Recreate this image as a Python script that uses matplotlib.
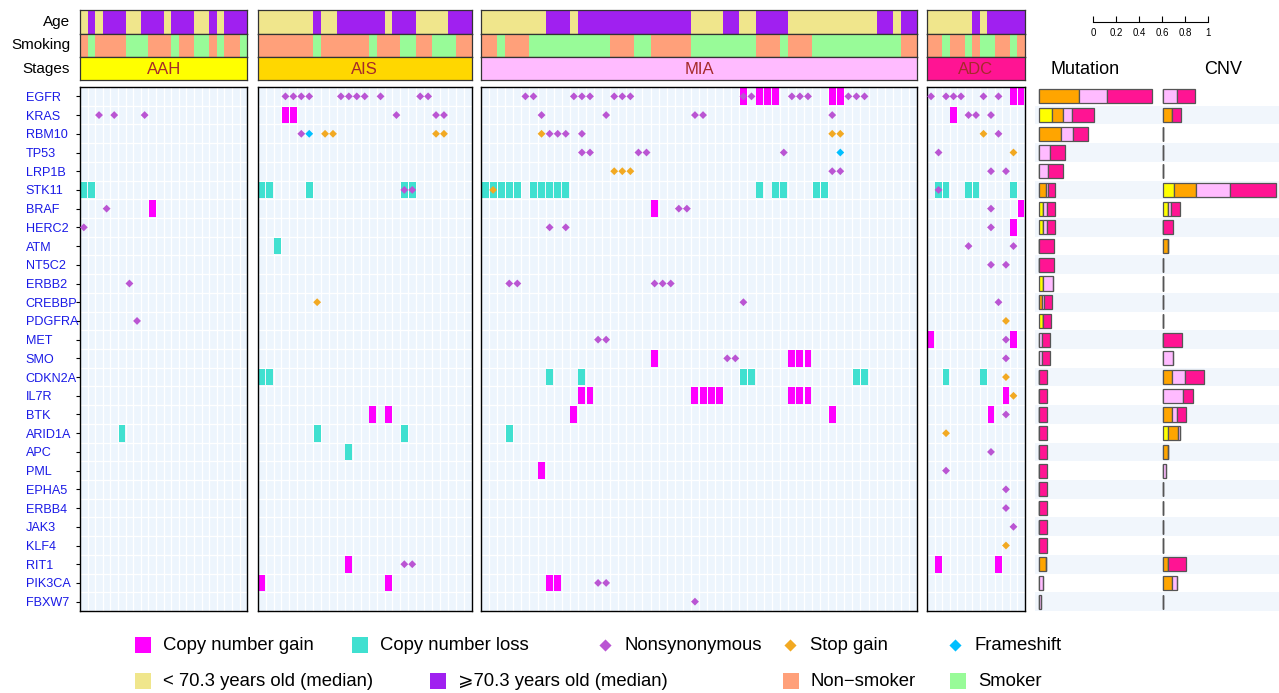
import numpy as np
import matplotlib.pyplot as plt
from matplotlib.patches import Rectangle

plt.rcParams['font.family'] = ['Liberation Sans', 'DejaVu Sans']

#%% Datos
genes = ['EGFR', 'KRAS', 'RBM10', 'TP53', 'LRP1B', 'STK11', 'BRAF', 'HERC2', 'ATM',
         'NT5C2', 'ERBB2', 'CREBBP', 'PDGFRA', 'MET', 'SMO', 'CDKN2A', 'IL7R', 'BTK',
         'ARID1A', 'APC', 'PML', 'EPHA5', 'ERBB4', 'JAK3', 'KLF4', 'RIT1', 'PIK3CA', 'FBXW7']

stages = ['AAH', 'AIS', 'MIA', 'ADC']
ncols = [22, 27, 54, 13]

# 0 = < 70.3 , 1 = >= 70.3
age_AAH = [0,1,0,1,1,1,0,0,1,1,1,0,1,1,1,0,0,1,0,1,1,1]
age_AIS = [0]*7 + [1] + [0,0] + [1]*6 + [0] + [1]*3 + [0]*4 + [1]*3
age_MIA = [0]*8 + [1]*3 + [0] + [1]*14 + [0]*4 + [1]*2 + [0]*2 + [1]*4 + [0]*11 + [1]*2 + [0] + [1]*2
age_ADC = [0]*6 + [1] + [0] + [1]*5

# 0 = non-smoker, 1 = smoker
smoke_AAH = [0,1,0,0,0,0,1,1,1,0,0,0,1,0,0,1,1,0,1,0,0,1]
smoke_AIS = [0]*7 + [1] + [0]*6 + [1] + [0]*3 + [1]*2 + [0]*2 + [1]*3 + [0]*2
smoke_MIA = [0]*2 + [1] + [0]*3 + [1]*10 + [0]*3 + [1]*2 + [0]*5 + [1]*8 + [0]*3 + [1] + [0]*3 + [1]*11 + [0]*2
smoke_ADC = [0,0,1,0,0,1,0,1,1,0,0,1,0]

# (gen, columna, tipo)
ev_AAH = [('KRAS',2,'mis'),('KRAS',4,'mis'),('KRAS',8,'mis'),('STK11',0,'loss'),('STK11',1,'loss'),
          ('BRAF',3,'mis'),('BRAF',9,'gain'),('HERC2',0,'mis'),('ERBB2',6,'mis'),('PDGFRA',7,'mis'),
          ('ARID1A',5,'loss')]
ev_AIS = [('EGFR',c,'mis') for c in [3,4,5,6,10,11,12,13,15,20,21]] + \
         [('KRAS',3,'gain'),('KRAS',4,'gain'),('KRAS',17,'mis'),('KRAS',22,'mis'),('KRAS',23,'mis'),
          ('RBM10',5,'mis'),('RBM10',6,'fs'),('RBM10',8,'stop'),('RBM10',9,'stop'),('RBM10',22,'stop'),('RBM10',23,'stop'),
          ('STK11',0,'loss'),('STK11',1,'loss'),('STK11',6,'loss'),('STK11',18,'loss'),('STK11',19,'loss'),
          ('STK11',18,'mis'),('STK11',19,'mis'),('ATM',2,'loss'),('CREBBP',7,'stop'),
          ('CDKN2A',0,'loss'),('CDKN2A',1,'loss'),('BTK',14,'gain'),('BTK',16,'gain'),
          ('ARID1A',7,'loss'),('ARID1A',18,'loss'),('APC',11,'loss'),
          ('RIT1',11,'gain'),('RIT1',18,'mis'),('RIT1',19,'mis'),('PIK3CA',0,'gain'),('PIK3CA',16,'gain')]
ev_MIA = [('EGFR',c,'mis') for c in [5,6,11,12,13,16,17,18,32,33,38,39,40,45,46,47]] + \
         [('EGFR',c,'gain') for c in [32,34,35,36,43,44]] + \
         [('KRAS',c,'mis') for c in [7,15,26,27,43]] + \
         [('RBM10',7,'stop'),('RBM10',8,'mis'),('RBM10',9,'mis'),('RBM10',10,'mis'),('RBM10',12,'mis'),
          ('RBM10',43,'stop'),('RBM10',44,'stop')] + \
         [('TP53',c,'mis') for c in [12,13,19,20,37]] + [('TP53',44,'fs')] + \
         [('LRP1B',c,'stop') for c in [16,17,18]] + [('LRP1B',43,'mis'),('LRP1B',44,'mis')] + \
         [('STK11',c,'loss') for c in [0,1,2,3,4,6,7,8,9,10,34,36,37,41,42]] + [('STK11',1,'stop')] + \
         [('BRAF',21,'gain'),('BRAF',24,'mis'),('BRAF',25,'mis'),('HERC2',8,'mis'),('HERC2',10,'mis')] + \
         [('ERBB2',c,'mis') for c in [3,4,21,22,23]] + [('CREBBP',32,'mis'),('MET',14,'mis'),('MET',15,'mis')] + \
         [('SMO',21,'gain'),('SMO',30,'mis'),('SMO',31,'mis'),('SMO',38,'gain'),('SMO',39,'gain'),('SMO',40,'gain')] + \
         [('CDKN2A',c,'loss') for c in [8,12,32,33,46,47]] + \
         [('IL7R',c,'gain') for c in [12,13,26,27,28,29,38,39,40]] + \
         [('BTK',11,'gain'),('BTK',43,'gain'),('ARID1A',3,'loss'),('PML',7,'gain'),
          ('PIK3CA',8,'gain'),('PIK3CA',9,'gain'),('PIK3CA',14,'mis'),('PIK3CA',15,'mis'),('FBXW7',26,'mis')]
ev_ADC = [('EGFR',c,'mis') for c in [0,2,3,4,7,9]] + [('EGFR',11,'gain'),('EGFR',12,'gain')] + \
         [('KRAS',3,'gain'),('KRAS',5,'mis'),('KRAS',6,'mis'),('KRAS',8,'mis'),
          ('RBM10',7,'stop'),('RBM10',9,'mis'),('TP53',1,'mis'),('TP53',11,'stop'),
          ('LRP1B',8,'mis'),('LRP1B',10,'mis')] + \
         [('STK11',c,'loss') for c in [1,2,5,6,11]] + [('STK11',1,'mis')] + \
         [('BRAF',8,'mis'),('BRAF',12,'gain'),('HERC2',8,'mis'),('HERC2',11,'gain'),
          ('ATM',5,'mis'),('ATM',11,'mis'),('NT5C2',8,'mis'),('NT5C2',10,'mis'),('CREBBP',9,'mis'),
          ('PDGFRA',10,'stop'),('MET',0,'gain'),('MET',11,'gain'),('MET',10,'mis'),('SMO',10,'mis'),
          ('CDKN2A',2,'loss'),('CDKN2A',7,'loss'),('CDKN2A',10,'stop'),('IL7R',10,'gain'),('IL7R',11,'stop'),
          ('BTK',8,'gain'),('BTK',10,'mis'),('ARID1A',2,'stop'),('APC',8,'mis'),('PML',2,'mis'),
          ('EPHA5',10,'mis'),('ERBB4',10,'mis'),('JAK3',11,'mis'),('KLF4',10,'stop'),
          ('RIT1',1,'gain'),('RIT1',9,'gain')]

# Fracciones por estadio (AAH, AIS, MIA, ADC)
mut_AAH = [0,.116,0,0,0,0,.037,.037,0,0,.037,0,.037,0,0,0,0,0,0,0,0,0,0,0,0,0,0,0]
mut_AIS = [.348,.096,.189,0,0,.061,0,0,0,0,0,.029,0,0,0,0,0,0,0,0,0,0,0,0,0,.061,0,0]
mut_MIA = [.246,.076,.110,.096,.078,.017,.029,.029,0,0,.081,.017,0,.029,.029,0,0,0,0,0,0,0,0,0,0,0,.032,.015]
mut_ADC = [.389,.194,.128,.128,.128,.063,.070,.070,.130,.130,0,.067,.067,.067,.067,.067,.067,.067,.067,.067,.067,.067,.067,.067,.067,0,0,0]

cnv_AAH = [0,0,0,0,0,.096,.046,0,0,0,0,0,0,0,0,0,0,0,.046,0,0,0,0,0,0,0,0,0]
cnv_AIS = [0,.081,0,0,0,.194,0,0,.041,0,0,0,0,0,0,.081,0,.081,.087,.041,0,0,0,0,0,.041,.081,0]
cnv_MIA = [.119,0,0,0,0,.293,.023,0,0,0,0,0,0,0,.084,.113,.177,.037,.015,0,.023,0,0,0,0,0,.041,0]
cnv_ADC = [.157,.078,0,0,0,.400,.081,.084,0,0,0,0,0,.165,0,.163,.081,.081,0,0,0,0,0,0,0,.163,0,0]

#%% Estilos
W, H = 1279, 693
age_cols = ['#F0E68C', '#A020F0']
smoke_cols = ['#FFA07A', '#98FB98']
stage_cols = ['#FFFF00', '#FFD700', '#FFBBFF', '#FF1493']
bar_cols = ['#FFFF00', '#FFA500', '#FFBBFF', '#FF1493']
ev_cols = {'gain': '#FF00FF', 'loss': '#40E0D0', 'mis': '#BA55D3', 'stop': '#F2A922', 'fs': '#00BFFF'}
bg = '#EDF5FD'
panel_x = [(80, 247.3), (257.7, 471.7), (481, 917), (927.3, 1024.7)]
ann_y = [10, 33.5, 57, 80]
main_y = (87, 611)

fig = plt.figure(figsize=(W/100, H/100), dpi=100)

def px_axes(x0, y0, x1, y1):
    return fig.add_axes([x0/W, 1 - y1/H, (x1-x0)/W, (y1-y0)/H])

def clean(ax, col='#333333', lw=0.9):
    ax.set_xticks([]); ax.set_yticks([])
    for s in ax.spines.values():
        s.set_color(col); s.set_linewidth(lw)

ages = [age_AAH, age_AIS, age_MIA, age_ADC]
smokes = [smoke_AAH, smoke_AIS, smoke_MIA, smoke_ADC]
events = [ev_AAH, ev_AIS, ev_MIA, ev_ADC]
ng = len(genes)

for k, st in enumerate(stages):
    x0, x1 = panel_x[k]
    n = ncols[k]
    # anotaciones superiores
    for r, (vals, cmap) in enumerate([(ages[k], age_cols), (smokes[k], smoke_cols)]):
        ax = px_axes(x0, ann_y[r], x1, ann_y[r+1])
        ax.bar(np.arange(n), 1, width=1, align='edge', color=[cmap[v] for v in vals], linewidth=0)
        ax.set_xlim(0, n); ax.set_ylim(0, 1)
        clean(ax)
    ax = px_axes(x0, ann_y[2], x1, ann_y[3])
    ax.set_facecolor(stage_cols[k])
    ax.text(0.5, 0.45, st, ha='center', va='center', fontsize=12, color='#A52A2A', transform=ax.transAxes)
    clean(ax)
    if k == 0:
        for r, lab in enumerate(['Age', 'Smoking', 'Stages']):
            fig.text(70/W, 1 - (ann_y[r] + ann_y[r+1])/2/H, lab, ha='right', va='center', fontsize=11)

    # heatmap principal
    ax = px_axes(x0, main_y[0], x1, main_y[1])
    ax.set_facecolor(bg)
    ax.set_xlim(0, n); ax.set_ylim(ng, 0)
    for i in range(1, n):
        ax.axvline(i, color='white', lw=0.9, zorder=1)
    for i in range(1, ng):
        ax.axhline(i, color='white', lw=0.9, zorder=1)
    dx, dy, dc = [], [], []
    for g, c, t in events[k]:
        r = genes.index(g)
        if t in ('gain', 'loss'):
            ax.add_patch(Rectangle((c + 0.07, r + 0.05), 0.86, 0.9, color=ev_cols[t], lw=0, zorder=2))
        else:
            dx.append(c + 0.5); dy.append(r + 0.5); dc.append(ev_cols[t])
    ax.scatter(dx, dy, marker='D', s=16, c=dc, linewidths=0, zorder=3)
    ax.set_xticks([])
    if k == 0:
        ax.set_yticks(np.arange(ng) + 0.5)
        ax.set_yticklabels(genes, fontsize=9.1, color='#1A1AE6', ha='left')
        ax.tick_params(axis='y', length=3, pad=36)
    else:
        ax.set_yticks([])
    for s in ax.spines.values():
        s.set_color('black'); s.set_linewidth(1)

#%% Barras laterales
def side_bars(ax, data):
    ax.set_ylim(ng - 0.5, -0.5)
    for i in range(ng):
        if i % 2 == 1:
            ax.axhspan(i - 0.5, i + 0.5, color='#F1F6FC', lw=0, zorder=0)
    left = np.zeros(ng)
    for j, vals in enumerate(data):
        vals = np.array(vals)
        ax.barh(np.arange(ng), vals, left=left, height=0.76, color=bar_cols[j],
                edgecolor='#555555', linewidth=0.9, zorder=2)
        left += vals
    ax.axis('off')

ax_mut = px_axes(1035, main_y[0], 1160, main_y[1])
ax_mut.set_xlim(-4/115, 121/115)
side_bars(ax_mut, [mut_AAH, mut_AIS, mut_MIA, mut_ADC])
ax_cnv = px_axes(1160, main_y[0], 1279, main_y[1])
ax_cnv.set_xlim(-3/115, 116/115)
side_bars(ax_cnv, [cnv_AAH, cnv_AIS, cnv_MIA, cnv_ADC])
fig.text(1085/W, 1 - 70/H, 'Mutation', ha='center', va='center', fontsize=13)
fig.text(1223/W, 1 - 70/H, 'CNV', ha='center', va='center', fontsize=13)

# escala
ax_sc = px_axes(1093, 12, 1208, 22)
ax_sc.set_xlim(0, 1)
for s in ['top', 'left', 'right']:
    ax_sc.spines[s].set_visible(False)
ax_sc.spines['bottom'].set_linewidth(0.8)
ax_sc.set_yticks([])
ax_sc.set_xticks([0, .2, .4, .6, .8, 1])
ax_sc.set_xticklabels(['0', '0.2', '0.4', '0.6', '0.8', '1'], fontsize=7)
ax_sc.tick_params(axis='x', direction='in', length=4, width=0.8, pad=4)
ax_sc.patch.set_alpha(0)

#%% Leyenda
ax_l = fig.add_axes([0, 0, 1, 1])
ax_l.set_xlim(0, W); ax_l.set_ylim(H, 0)
ax_l.axis('off')
ax_l.patch.set_alpha(0)
row1 = [('sq', ev_cols['gain'], 'Copy number gain', 135),
        ('sq', ev_cols['loss'], 'Copy number loss', 352),
        ('d', ev_cols['mis'], 'Nonsynonymous', 605),
        ('d', ev_cols['stop'], 'Stop gain', 790),
        ('d', ev_cols['fs'], 'Frameshift', 955)]
row2 = [('sq', age_cols[0], '< 70.3 years old (median)', 135),
        ('sq', age_cols[1], '⩾70.3 years old (median)', 430),
        ('sq', smoke_cols[0], 'Non\u2212smoker', 783),
        ('sq', smoke_cols[1], 'Smoker', 950)]
for yy, row in [(645, row1), (681, row2)]:
    for kind, col, lab, xx in row:
        if kind == 'sq':
            ax_l.add_patch(Rectangle((xx, yy - 8), 16, 16, color=col, lw=0))
            ax_l.text(xx + 28, yy, lab, ha='left', va='center', fontsize=13.3)
        else:
            ax_l.scatter([xx], [yy], marker='D', s=38, c=col, linewidths=0)
            ax_l.text(xx + 20, yy, lab, ha='left', va='center', fontsize=13.3)

fig.savefig('out.png', dpi=100)
